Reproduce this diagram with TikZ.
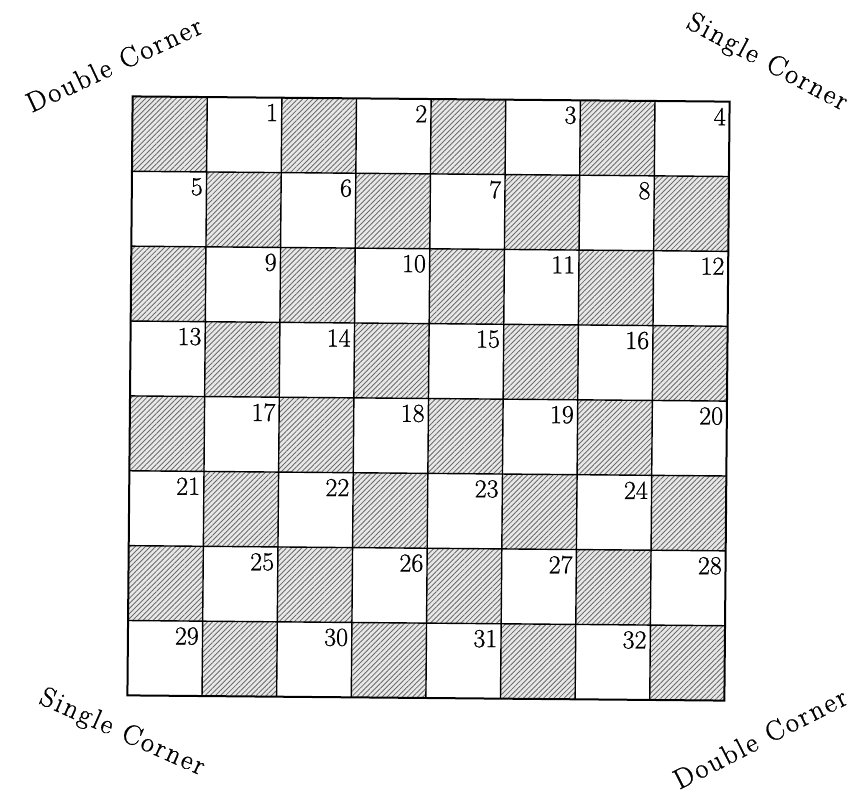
\documentclass[tikz,border=0pt]{standalone}
\usepackage{fontspec}
\usetikzlibrary{patterns.meta}
\newfontfamily\heavyfont[FakeBold=0.8]{Latin Modern Roman}
\newcommand\ls{\kern2.2pt}
\newcommand\ws{\hspace{12pt}}
\begin{document}
\begin{tikzpicture}[x=1pt,y=-1pt,
  darkcell/.style={fill=gray!18, postaction={pattern={Lines[angle=45,distance=3.6pt,line width=0.85pt]}, pattern color=black!58}},
  numlabel/.style={anchor=north east, inner sep=0pt, font=\heavyfont\fontsize{26}{26}\selectfont},
  cornerlabel/.style={inner sep=0pt, font=\heavyfont\fontsize{28}{28}\selectfont},
  gridline/.style={line width=1.4pt},
  borderline/.style={line width=2pt},
]
\useasboundingbox[fill=white] (0,0) rectangle (861,804);
\begin{scope}[rotate around={-0.5:(428.5,398.5)}]
\foreach \r in {0,...,7}{
  \foreach \c in {0,...,7}{
    \pgfmathtruncatemacro\parity{mod(\r+\c,2)}
    \pgfmathsetmacro\xa{130+\c*74.625}
    \pgfmathsetmacro\ya{99+\r*74.875}
    \ifnum\parity=0
      \path[darkcell] (\xa,\ya) rectangle ++(74.625,74.875);
    \else
      \pgfmathtruncatemacro\num{4*\r+div(\c,2)+1}
      \node[numlabel] (n\num) at (\xa+71,\ya+6) {\num};
    \fi
  }
}
\foreach \i in {1,...,7}{
  \draw[gridline] (130+\i*74.625,99) -- (130+\i*74.625,698);
  \draw[gridline] (130,99+\i*74.875) -- (727,99+\i*74.875);
}
\draw[borderline] (130,99) rectangle (727,698);
\end{scope}
\node[cornerlabel, rotate=25] (dc1) at (114,64) {D\ls o\ls u\ls b\ls l\ls e\ws C\ls o\ls r\ls n\ls e\ls r};
\node[cornerlabel, rotate=-28] (sc1) at (767,63) {S\ls i\ls n\ls g\ls l\ls e\ws C\ls o\ls r\ls n\ls e\ls r};
\node[cornerlabel, rotate=-24] (sc2) at (122,733) {S\ls i\ls n\ls g\ls l\ls e\ws C\ls o\ls r\ls n\ls e\ls r};
\node[cornerlabel, rotate=27] (dc2) at (760,738) {D\ls o\ls u\ls b\ls l\ls e\ws C\ls o\ls r\ls n\ls e\ls r};
\end{tikzpicture}
\end{document}
